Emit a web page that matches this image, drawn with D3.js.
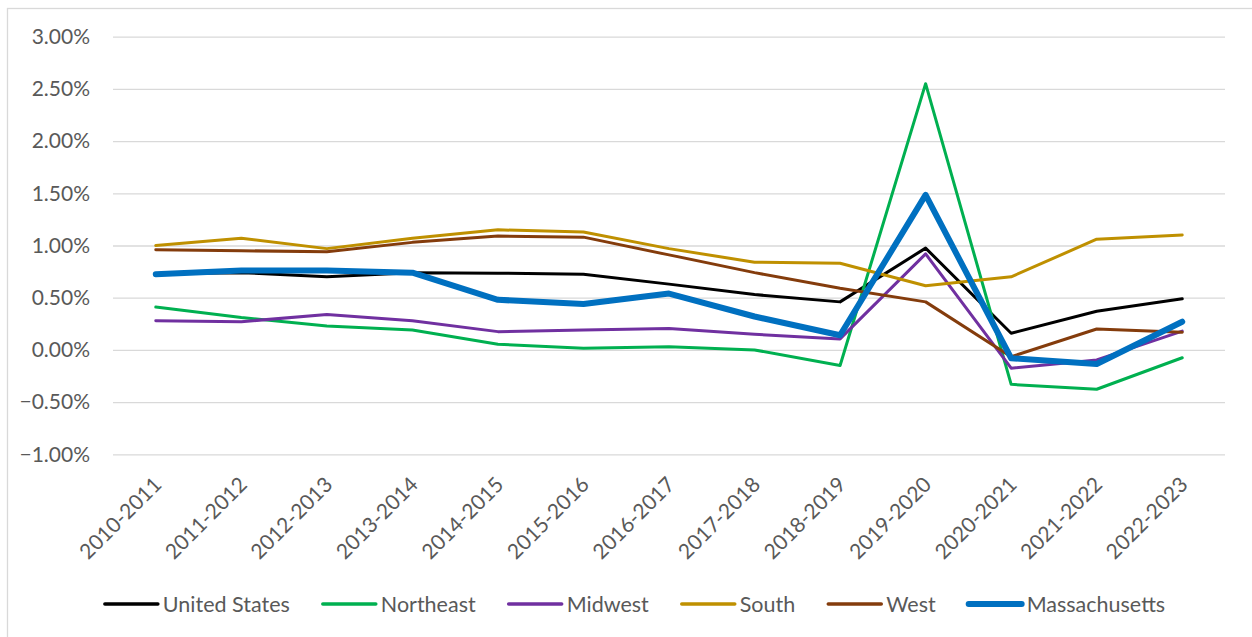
<!DOCTYPE html>
<html>
<head>
<meta charset="utf-8">
<script src="https://cdn.jsdelivr.net/npm/d3@7"></script>
<style>
  body { margin: 0; background: #fff; overflow: hidden; }
  text { font-family: Lato, "Open Sans", sans-serif; fill: #595959; }
</style>
</head>
<body>
<div id="vis"></div>
<script>
// Enrollment change by region, yearly
const years = ["2010-2011", "2011-2012", "2012-2013", "2013-2014", "2014-2015", "2015-2016",
  "2016-2017", "2017-2018", "2018-2019", "2019-2020", "2020-2021", "2021-2022", "2022-2023"];

const unitedStates = [0.73, 0.74, 0.70, 0.74, 0.735, 0.725, 0.63, 0.53, 0.46, 0.975, 0.16, 0.37, 0.49];
const northeast = [0.41, 0.31, 0.23, 0.19, 0.055, 0.016, 0.03, 0.00, -0.15, 2.55, -0.33, -0.377, -0.075];
const midwest = [0.28, 0.27, 0.34, 0.28, 0.175, 0.19, 0.205, 0.15, 0.105, 0.92, -0.175, -0.096, 0.18];
const south = [1.00, 1.07, 0.97, 1.07, 1.15, 1.13, 0.97, 0.84, 0.83, 0.615, 0.70, 1.06, 1.10];
const west = [0.96, 0.95, 0.94, 1.03, 1.09, 1.08, 0.91, 0.74, 0.59, 0.46, -0.065, 0.20, 0.17];
const massachusetts = [0.725, 0.76, 0.76, 0.74, 0.48, 0.44, 0.54, 0.32, 0.14, 1.485, -0.08, -0.135, 0.27];

const yTicks = [-1, -0.5, 0, 0.5, 1, 1.5, 2, 2.5, 3];

const series = [
  { name: "United States", values: unitedStates, color: "#000000", width: 3 },
  { name: "Northeast", values: northeast, color: "#00B050", width: 3 },
  { name: "Midwest", values: midwest, color: "#7030A0", width: 3 },
  { name: "South", values: south, color: "#BF9000", width: 3 },
  { name: "West", values: west, color: "#843C0C", width: 3 },
  { name: "Massachusetts", values: massachusetts, color: "#0070C0", width: 6 }
];

const width = 1252;
const height = 637;
const plot = { left: 113, right: 1225, top: 36.7, bottom: 454.3 };

const svg = d3.select("#vis")
  .append("svg")
  .attr("width", width)
  .attr("height", height);

// chart border (only left and top edges fall inside the picture)
svg.append("rect")
  .attr("x", 7.5).attr("y", 8.5)
  .attr("width", 1300).attr("height", 700)
  .attr("fill", "none")
  .attr("stroke", "#D9D9D9")
  .attr("stroke-width", 1.3);

const xScale = d3.scalePoint()
  .domain(years)
  .range([plot.left, plot.right])
  .padding(0.5);

const yScale = d3.scaleLinear()
  .domain([-1, 3])
  .range([plot.bottom, plot.top]);

// Grid
svg.append("g")
  .attr("transform", `translate(${plot.left},0)`)
  .call(d3.axisLeft(yScale).tickValues(yTicks).tickSize(-(plot.right - plot.left)).tickFormat(""))
  .call(g => g.select(".domain").remove())
  .call(g => g.selectAll("line").attr("stroke", "#D9D9D9").attr("stroke-width", 1.3));

// Y labels
svg.append("g")
  .attr("transform", `translate(90,0)`)
  .call(d3.axisLeft(yScale).tickValues(yTicks).tickSize(0).tickPadding(0).tickFormat(d => d3.format(".2f")(d) + "%"))
  .call(g => g.select(".domain").remove())
  .call(g => g.selectAll("text")
    .attr("font-size", "21px")
    .attr("fill", "#595959")
    .style("font-family", "Lato, sans-serif"));

// X labels
svg.append("g")
  .selectAll("text")
  .data(years)
  .enter()
  .append("text")
  .attr("transform", d => `translate(${xScale(d) + 7},486) rotate(-45)`)
  .attr("text-anchor", "end")
  .attr("font-size", "21px")
  .text(d => d);

// Lines
const line = d3.line()
  .x((d, i) => xScale(years[i]))
  .y(d => yScale(d));

series.forEach(s => {
  svg.append("path")
    .datum(s.values)
    .attr("d", line)
    .attr("fill", "none")
    .attr("stroke", s.color)
    .attr("stroke-width", s.width)
    .attr("stroke-linejoin", "round")
    .attr("stroke-linecap", "round");
});

// Legend
const legend = svg.append("g").attr("class", "legend");
const sampleLen = 53, textGap = 5, itemGap = 33, legendY = 604;
let cursor = 0;
const items = [];
series.forEach(s => {
  const g = legend.append("g");
  g.append("line")
    .attr("x1", 0).attr("x2", sampleLen)
    .attr("y1", 0).attr("y2", 0)
    .attr("stroke", s.color)
    .attr("stroke-width", s.width === 6 ? 6 : 3.5)
    .attr("stroke-linecap", "round");
  const t = g.append("text")
    .attr("x", sampleLen + textGap)
    .attr("y", 7.5)
    .attr("font-size", "21.5px")
    .text(s.name);
  const w = sampleLen + textGap + t.node().getComputedTextLength();
  items.push({ g, x: cursor });
  cursor += w + itemGap;
});
const total = cursor - itemGap;
const start = 635 - total / 2;
items.forEach(it => it.g.attr("transform", `translate(${start + it.x},${legendY})`));
</script>
</body>
</html>
